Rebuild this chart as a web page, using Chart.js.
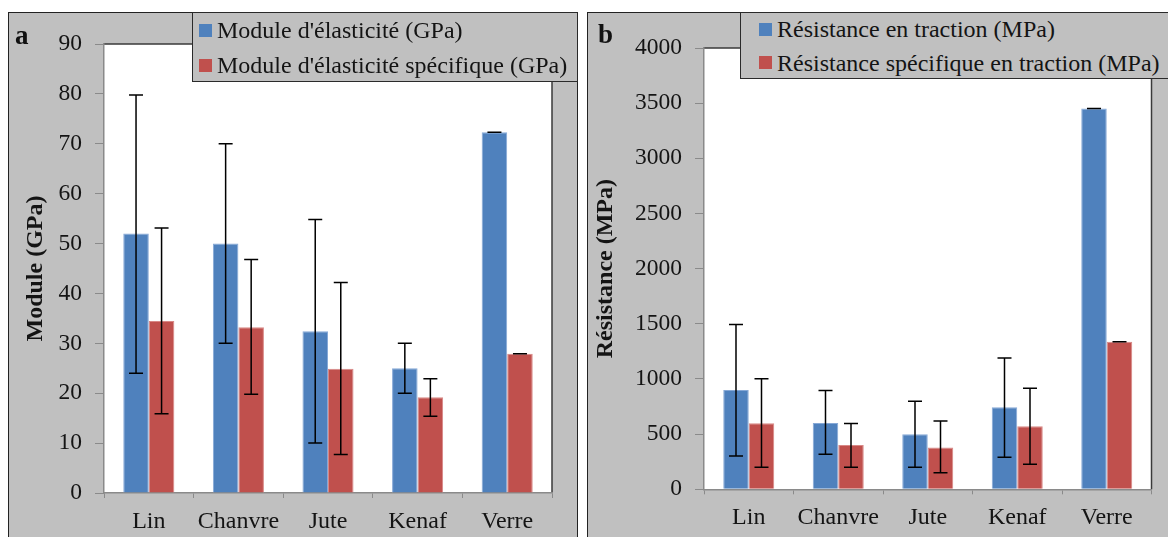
<!DOCTYPE html>
<html>
<head>
<meta charset="utf-8">
<script src="https://cdn.jsdelivr.net/npm/chart.js@4.4.1/dist/chart.umd.min.js"></script>
<style>
  html, body { margin: 0; padding: 0; background: #ffffff; }
  body { width: 1168px; height: 537px; overflow: hidden; position: relative; font-family: "Liberation Serif", "Times New Roman", serif; }
  .panel { position: absolute; box-sizing: border-box; border: 1px solid #222; background: #C0C0C0; }
  canvas { position: absolute; }
  .legend { position: absolute; box-sizing: border-box; border: 1px solid #2a2a2a; background: #C0C0C0; }
  .litem { position: absolute; height: 26px; line-height: 26px; font-size: 24px; color: #141414; white-space: nowrap; }
  .lsq { position: absolute; width: 13px; height: 13px; }
  .letter { position: absolute; font-weight: bold; font-size: 27px; line-height: 27px; color: #111; }
</style>
</head>
<body>
<div class="panel" style="left:8px; top:12px; width:570px; height:540px;"></div>
<div class="panel" style="left:587px; top:12px; width:600px; height:540px;"></div>
<canvas id="chartA" width="567" height="527" style="left:9px; top:13px;"></canvas>
<canvas id="chartB" width="580" height="527" style="left:588px; top:13px;"></canvas>
<div class="letter" style="left:15px; top:22px;">a</div>
<div class="letter" style="left:598px; top:21px;">b</div>
<div class="legend" id="legendA" style="left:192px; top:12px; width:386px; height:70px;"></div>
<div class="legend" id="legendB" style="left:740px; top:12px; width:450px; height:67px;"></div>
<script>
// ---------- data ----------
const categories = ['Lin', 'Chanvre', 'Jute', 'Kenaf', 'Verre'];

const moduleLabel = "Module d'élasticité (GPa)";
const moduleValues = [52, 50, 32.4, 25, 72.3];
const moduleLow = [24, 30, 10, 20, 72.3];
const moduleHigh = [79.8, 70, 54.8, 30, 72.3];

const moduleSpecLabel = "Module d'élasticité spécifique (GPa)";
const moduleSpecValues = [34.5, 33.2, 24.9, 19.2, 27.9];
const moduleSpecLow = [15.9, 19.8, 7.7, 15.4, 27.9];
const moduleSpecHigh = [53.1, 46.8, 42.2, 22.9, 27.9];

const resistLabel = "Résistance en traction (MPa)";
const resistValues = [899, 602, 500, 743, 3451];
const resistLow = [301, 317, 200, 290, 3451];
const resistHigh = [1494, 896, 797, 1189, 3451];

const resistSpecLabel = "Résistance spécifique en traction (MPa)";
const resistSpecValues = [598, 401, 380, 571, 1337];
const resistSpecLow = [199, 200, 150, 226, 1337];
const resistSpecHigh = [1002, 596, 619, 915, 1337];

const moduleTicks = { min: 0, max: 90, step: 10 };
const resistTicks = { min: 0, max: 4000, step: 500 };

const blue = '#4F81BD';
const red = '#C0504D';

// ---------- plugins ----------
const areaPlugin = {
  id: 'areaBg',
  beforeDraw(chart) {
    const { ctx, chartArea: a } = chart;
    ctx.save();
    ctx.fillStyle = '#ffffff';
    ctx.fillRect(a.left, a.top, a.right - a.left, a.bottom - a.top);
    ctx.strokeStyle = '#3a3a3a';
    ctx.lineWidth = 1.5;
    ctx.beginPath();
    ctx.moveTo(a.left, a.top);
    ctx.lineTo(a.right, a.top);
    ctx.lineTo(a.right, a.bottom);
    ctx.stroke();
    ctx.restore();
  }
};

const errorBarPlugin = {
  id: 'errorBars',
  afterDatasetsDraw(chart) {
    const ctx = chart.ctx;
    const y = chart.scales.y;
    chart.data.datasets.forEach((ds, i) => {
      const meta = chart.getDatasetMeta(i);
      meta.data.forEach((bar, j) => {
        const lo = y.getPixelForValue(ds.errLow[j]);
        const hi = y.getPixelForValue(ds.errHigh[j]);
        ctx.save();
        ctx.strokeStyle = '#000';
        ctx.lineWidth = 1.5;
        ctx.beginPath();
        ctx.moveTo(bar.x, lo); ctx.lineTo(bar.x, hi);
        ctx.moveTo(bar.x - 7, lo); ctx.lineTo(bar.x + 7, lo);
        ctx.moveTo(bar.x - 7, hi); ctx.lineTo(bar.x + 7, hi);
        ctx.stroke();
        ctx.restore();
      });
    });
  }
};

function makeChart(id, cfg) {
  const font = { family: '"Liberation Serif", "Times New Roman", serif' };
  return new Chart(document.getElementById(id), {
    type: 'bar',
    data: {
      labels: categories,
      datasets: cfg.series.map((s, k) => ({
        label: s.label,
        data: s.values,
        errLow: s.low,
        errHigh: s.high,
        backgroundColor: s.color,
        borderColor: s.border,
        borderWidth: 1,
        categoryPercentage: 0.57,
        barPercentage: 1.0
      }))
    },
    options: {
      responsive: false,
      animation: false,
      events: [],
      layout: { padding: { top: cfg.padTop, right: cfg.padRight, left: 0, bottom: 0 } },
      plugins: { legend: { display: false }, tooltip: { enabled: false } },
      scales: {
        x: {
          grid: { display: true, drawOnChartArea: false, drawTicks: true, tickLength: 5, color: '#8a8a8a', offset: true },
          border: { display: true, color: '#8a8a8a', width: 1.5 },
          ticks: { color: '#141414', padding: 9, font: { ...font, size: 24 }, maxRotation: 0 },
          afterFit(scale) { scale.height = cfg.xHeight; }
        },
        y: {
          min: cfg.ticks.min, max: cfg.ticks.max,
          grid: { display: true, drawOnChartArea: false, drawTicks: true, tickLength: 9, color: '#8a8a8a' },
          border: { display: true, color: '#8a8a8a', width: 1.5 },
          ticks: { stepSize: cfg.ticks.step, color: '#141414', padding: 13, font: { ...font, size: 23.5 }, callback: (v) => String(v) },
          title: { display: true, text: cfg.yTitle, color: '#141414', font: { ...font, size: 24, weight: 'bold' }, padding: { top: cfg.titlePad, bottom: 0 } },
          afterFit(scale) { scale.width = cfg.yWidth; }
        }
      }
    },
    plugins: [areaPlugin, errorBarPlugin]
  });
}

function buildLegend(chart, el, rows, sqLeft, textLeft, boxLeft, boxTop) {
  chart.data.datasets.forEach((ds, i) => {
    const cy = rows[i];
    const sq = document.createElement('div');
    sq.className = 'lsq';
    sq.style.left = (sqLeft - boxLeft - 1) + 'px';
    sq.style.top = (cy - 6.5 - boxTop - 1) + 'px';
    sq.style.background = ds.backgroundColor;
    el.appendChild(sq);
    const t = document.createElement('div');
    t.className = 'litem';
    t.style.left = (textLeft - boxLeft - 1) + 'px';
    t.style.top = (cy - 13 - boxTop - 1) + 'px';
    t.textContent = ds.label;
    el.appendChild(t);
  });
}

const chartA = makeChart('chartA', {
  series: [
    { label: moduleLabel, values: moduleValues, low: moduleLow, high: moduleHigh, color: blue, border: '#86A8D6' },
    { label: moduleSpecLabel, values: moduleSpecValues, low: moduleSpecLow, high: moduleSpecHigh, color: red, border: '#D88886' }
  ],
  ticks: moduleTicks,
  yTitle: 'Module (GPa)',
  padTop: 31, padRight: 24, xHeight: 47, yWidth: 95, titlePad: 12.6
});

const chartB = makeChart('chartB', {
  series: [
    { label: resistLabel, values: resistValues, low: resistLow, high: resistHigh, color: blue, border: '#86A8D6' },
    { label: resistSpecLabel, values: resistSpecValues, low: resistSpecLow, high: resistSpecHigh, color: red, border: '#D88886' }
  ],
  ticks: resistTicks,
  yTitle: 'Résistance (MPa)',
  padTop: 35, padRight: 16.5, xHeight: 50.7, yWidth: 116, titlePad: 3.6
});

buildLegend(chartA, document.getElementById('legendA'), [30, 65], 199, 217, 192, 12);
buildLegend(chartB, document.getElementById('legendB'), [29, 62.5], 759, 777, 740, 12);
</script>
</body>
</html>
